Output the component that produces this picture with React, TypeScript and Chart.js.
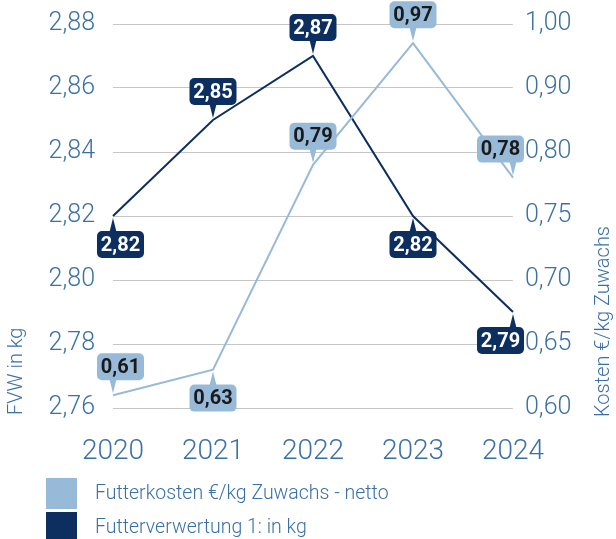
import React, { useEffect, useRef } from 'react';
import { Chart, registerables, LinearScale } from 'chart.js';

Chart.register(...registerables);

const YEARS = ['2020', '2021', '2022', '2023', '2024'];
const FUTTERKOSTEN = [0.61, 0.63, 0.79, 0.97, 0.78];
const FUTTERVERWERTUNG = [2.82, 2.85, 2.87, 2.82, 2.79];
const LEFT_TICKS = [2.76, 2.78, 2.8, 2.82, 2.84, 2.86, 2.88];
const RIGHT_TICKS = [0.6, 0.65, 0.7, 0.75, 0.8, 0.9, 1.0];
const KOSTEN_LABEL_SIDE = ['above', 'below', 'above', 'above', 'above'];
const FVW_LABEL_SIDE = ['below', 'above', 'above', 'below', 'below'];
const SERIES_NAMES = ['Futterkosten €/kg Zuwachs - netto', 'Futterverwertung 1: in kg'];
const LEFT_TITLE = 'FVW in kg';
const RIGHT_TITLE = 'Kosten €/kg Zuwachs';

const LIGHT = '#97bad8';
const DARK = '#0d2f5f';
const AXIS_BLUE = '#3a70a8';
const FONT = 'Roboto';

const fmt = (v: number) => v.toFixed(2).replace('.', ',');

// Piecewise scale: the listed ticks are equally spaced
class SteppedScale extends LinearScale {
  static id = 'stepped';
  static defaults = (LinearScale as any).defaults;
  determineDataLimits() {
    (this as any).min = RIGHT_TICKS[0];
    (this as any).max = RIGHT_TICKS[RIGHT_TICKS.length - 1];
  }
  buildTicks() {
    return RIGHT_TICKS.map((value) => ({ value })) as any;
  }
  toDecimal(v: number) {
    const b = RIGHT_TICKS;
    const n = b.length - 1;
    if (v <= b[0]) return (v - b[0]) / (b[1] - b[0]) / n;
    for (let i = 0; i < n; i++) {
      if (v <= b[i + 1]) return (i + (v - b[i]) / (b[i + 1] - b[i])) / n;
    }
    return (n - 1 + (v - b[n - 1]) / (b[n] - b[n - 1])) / n;
  }
  getPixelForValue(v: number) {
    return (this as any).getPixelForDecimal(this.toDecimal(v));
  }
  getValueForPixel(p: number) {
    const b = RIGHT_TICKS;
    const n = b.length - 1;
    const d = (this as any).getDecimalForPixel(p) * n;
    const i = Math.max(0, Math.min(n - 1, Math.floor(d)));
    return b[i] + (d - i) * (b[i + 1] - b[i]);
  }
}
Chart.register(SteppedScale as any);

const calloutPlugin = {
  id: 'calloutLabels',
  afterDatasetsDraw(chart: any) {
    const ctx = chart.ctx;
    const area = chart.chartArea;
    chart.data.datasets.forEach((ds: any, di: number) => {
      const meta = chart.getDatasetMeta(di);
      meta.data.forEach((pt: any, i: number) => {
        const w = 47, h = 27, r = 5, gap = 15;
        let bx = pt.x - w / 2;
        bx = Math.max(area.left - 16, Math.min(area.right + 11 - w, bx));
        const above = ds.labelSides[i] === 'above';
        const by = above ? pt.y - gap - h : pt.y + gap;
        ctx.save();
        ctx.fillStyle = ds.labelBox;
        ctx.beginPath();
        ctx.roundRect(bx, by, w, h, r);
        ctx.fill();
        const edge = above ? by + h - 1 : by + 1;
        const tip = above ? pt.y - 2 : pt.y + 2;
        ctx.beginPath();
        ctx.moveTo(pt.x - 3.5, edge);
        ctx.lineTo(pt.x + 3.5, edge);
        ctx.lineTo(pt.x, tip);
        ctx.closePath();
        ctx.fill();
        ctx.fillStyle = ds.labelText;
        ctx.font = `bold 20px ${FONT}`;
        ctx.textAlign = 'center';
        ctx.textBaseline = 'middle';
        ctx.fillText(fmt(ds.data[i]), bx + w / 2, by + h / 2 + 1);
        ctx.restore();
      });
    });
  },
};

const decorPlugin = {
  id: 'decor',
  afterDraw(chart: any) {
    const ctx = chart.ctx;
    const area = chart.chartArea;
    ctx.save();
    // axis titles
    ctx.fillStyle = AXIS_BLUE;
    ctx.font = `300 20px ${FONT}`;
    ctx.textBaseline = 'middle';
    ctx.textAlign = 'left';
    ctx.save();
    ctx.translate(17, area.bottom + 7);
    ctx.rotate(-Math.PI / 2);
    ctx.fillText(LEFT_TITLE, 0, 0);
    ctx.restore();
    ctx.save();
    ctx.translate(604, area.bottom + 9);
    ctx.rotate(-Math.PI / 2);
    ctx.fillText(RIGHT_TITLE, 0, 0);
    ctx.restore();
    // legend
    chart.data.datasets.forEach((ds: any, i: number) => {
      const y = 478 + i * 34;
      ctx.fillStyle = ds.borderColor;
      ctx.fillRect(46, y, 31, 31);
      ctx.fillStyle = AXIS_BLUE;
      ctx.font = `300 19.5px ${FONT}`;
      ctx.textAlign = 'left';
      ctx.textBaseline = 'middle';
      ctx.fillText(SERIES_NAMES[i], 95, y + 16);
    });
    ctx.restore();
  },
};

const noVPad = (s: any) => { s.paddingTop = 0; s.paddingBottom = 0; };

export default function App() {
  const ref = useRef<HTMLCanvasElement>(null);
  useEffect(() => {
    document.body.style.margin = '0';
    const chart = new Chart(ref.current!, {
      type: 'line',
      data: {
        labels: YEARS,
        datasets: [
          {
            label: SERIES_NAMES[0],
            data: FUTTERKOSTEN,
            yAxisID: 'y1',
            borderColor: LIGHT,
            backgroundColor: LIGHT,
            borderWidth: 2,
            pointRadius: 0,
            tension: 0,
            labelSides: KOSTEN_LABEL_SIDE,
            labelBox: LIGHT,
            labelText: '#1a1a1a',
          } as any,
          {
            label: SERIES_NAMES[1],
            data: FUTTERVERWERTUNG,
            yAxisID: 'y',
            borderColor: DARK,
            backgroundColor: DARK,
            borderWidth: 2,
            pointRadius: 0,
            tension: 0,
            labelSides: FVW_LABEL_SIDE,
            labelBox: DARK,
            labelText: '#ffffff',
          } as any,
        ],
      },
      options: {
        responsive: false,
        animation: false,
        layout: { padding: { top: 24, bottom: 71, left: 0, right: 0 } },
        plugins: { legend: { display: false }, tooltip: { enabled: false } },
        scales: {
          x: {
            offset: false,
            grid: { display: false, drawTicks: false },
            border: { display: false },
            ticks: { color: AXIS_BLUE, font: { family: FONT, size: 28, weight: '300' as any }, padding: 27, maxRotation: 0 },
            afterFit: (s: any) => { s.height = 60; },
          },
          y: {
            position: 'left',
            min: 2.76,
            max: 2.88,
            grid: { color: '#c6c6c6', lineWidth: 1, drawTicks: false },
            border: { display: false },
            afterBuildTicks: (s: any) => { s.ticks = LEFT_TICKS.map((value) => ({ value })); },
            ticks: { color: AXIS_BLUE, font: { family: FONT, size: 25, weight: '300' as any }, padding: 18, autoSkip: false, callback: (v: any) => fmt(Number(v)) },
            afterFit: (s: any) => { s.width = 113; noVPad(s); },
          },
          y1: {
            type: 'stepped' as any,
            position: 'right',
            grid: { display: false, drawTicks: false },
            border: { display: false },
            ticks: { color: AXIS_BLUE, font: { family: FONT, size: 25, weight: '300' as any }, padding: 12, autoSkip: false, callback: (v: any) => fmt(Number(v)) },
            afterFit: (s: any) => { s.width = 103; noVPad(s); },
          } as any,
        },
      },
      plugins: [calloutPlugin, decorPlugin],
    });
    return () => chart.destroy();
  }, []);
  return (
    <div style={{ width: 616, height: 539 }}>
      <canvas ref={ref} width={616} height={539} style={{ display: 'block' }} />
    </div>
  );
}
